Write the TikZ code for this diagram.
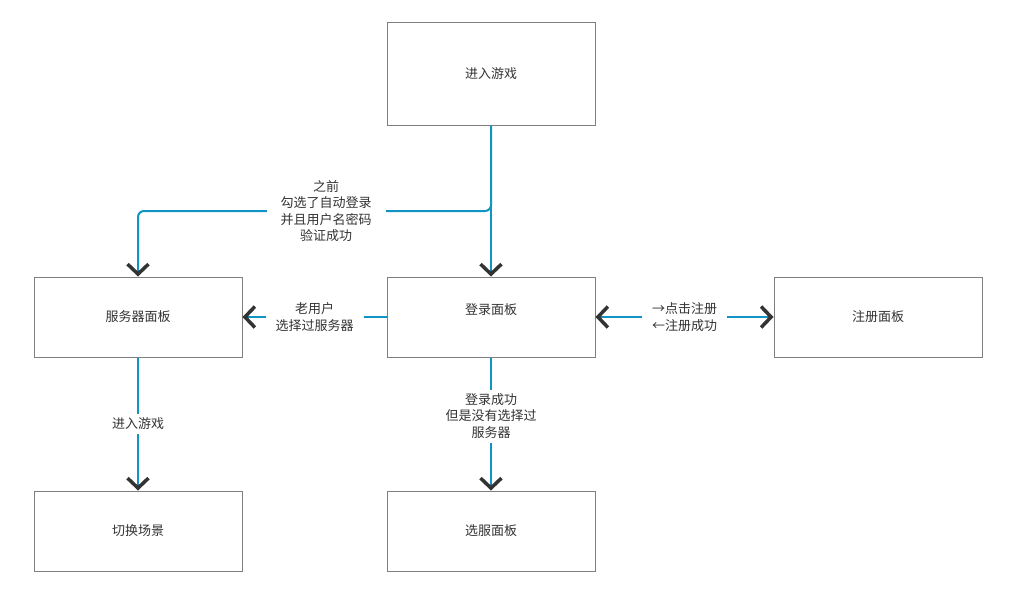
\documentclass[tikz,border=0pt]{standalone}
\usepackage{fontspec}
\newfontfamily\cjk{Noto Sans CJK SC}
\usetikzlibrary{arrows.meta}
\definecolor{lineblue}{HTML}{1193C4}
\definecolor{boxgray}{HTML}{7F7F7F}
\definecolor{tipgray}{HTML}{333333}
\definecolor{txt}{HTML}{333333}
\begin{document}
\begin{tikzpicture}[x=1pt,y=-1pt,
  font=\cjk\fontsize{13}{16.5}\selectfont,
  box/.style={draw=boxgray, line width=1pt, minimum width=208pt, minimum height=80pt, inner sep=0pt, text=txt},
  conn/.style={draw=lineblue, line width=2pt, -{Straight Barb[length=10pt,width=21pt,line width=3.5pt,color=tipgray]}},
  conn2/.style={draw=lineblue, line width=2pt, {Straight Barb[length=10pt,width=21pt,line width=3.5pt,color=tipgray]}-{Straight Barb[length=10pt,width=21pt,line width=3.5pt,color=tipgray]}},
  lbl/.style={fill=white, align=center, inner xsep=10pt, inner ysep=4pt, text=txt}]
\useasboundingbox[fill=white] (0,0) rectangle (1017,589);
\node[box, minimum height=103pt] (top) at (491,73.5) {进入游戏};
\node[box] (server) at (138,317) {服务器面板};
\node[box] (login) at (491,317) {\raisebox{16pt}{登录面板}};
\node[box] (reg) at (878,317) {注册面板};
\node[box] (scene) at (138,531) {切换场景};
\node[box] (select) at (491,531) {选服面板};
\coordinate (branch) at (491,211);
\draw[conn] (top.south) -- (login.north);
\draw[conn, rounded corners=6pt] (top.south) -- (branch) -| (server.north);
\node[lbl, inner xsep=14pt] (autolbl) at (326,211) {之前\\勾选了自动登录\\并且用户名密码\\验证成功};
\draw[conn] (login.west) -- (server.east) node[lbl, midway] (oldlbl) {老用户\\选择过服务器};
\draw[conn2] (login.east) -- (reg.west) node[lbl, midway] (reglbl) {→点击注册\\←注册成功};
\draw[conn] (login.south) -- (select.north) node[lbl, pos=0.44] (sellbl) {登录成功\\但是没有选择过\\服务器};
\draw[conn] (server.south) -- (scene.north) node[lbl, midway] (gamelbl) {进入游戏};
\end{tikzpicture}
\end{document}
